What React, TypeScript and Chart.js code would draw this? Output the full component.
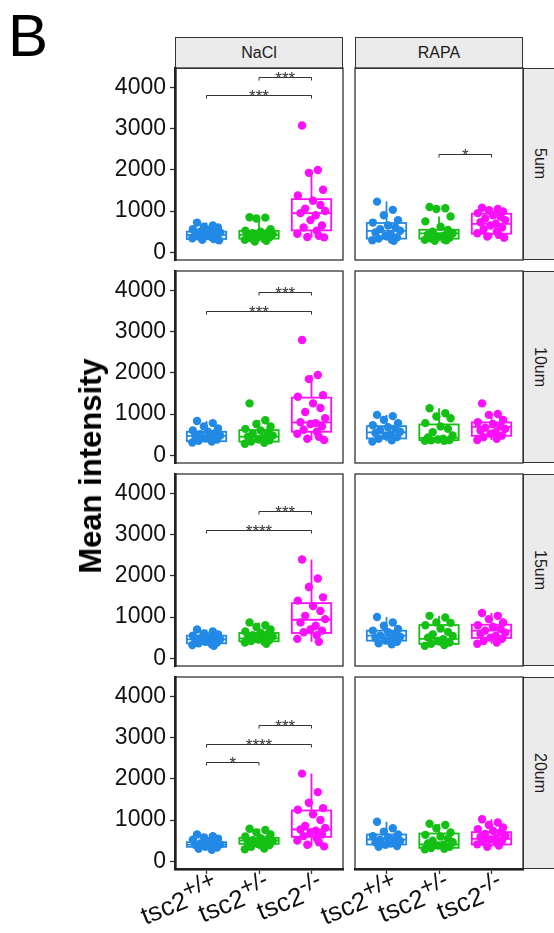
import React, { useEffect, useRef } from 'react';
import { Chart, registerables } from 'chart.js';

Chart.register(...registerables);

const FONT = '"Liberation Sans", Arial, Helvetica, sans-serif';

// ---------- categories & labels ----------
const treatments = ['NaCl', 'RAPA'];
const distances = ['5um', '10um', '15um', '20um'];
const genotypeBase = ['tsc2', 'tsc2', 'tsc2'];
const genotypeSup = ['+/+', '+/-', '-/-'];
const yTicks = [0, 1000, 2000, 3000, 4000];
const genotypeColors = ['#2389E6', '#14C014', '#FA10FA'];
// hand-picked horizontal jitter offsets (category units)
const jitter = [-0.18, 0.12, -0.05, 0.22, -0.26, 0.03, 0.17, -0.12, 0.26, -0.21, 0.08, -0.02, 0.2, -0.15, 0.1, -0.27, 0.14, -0.08, 0.24, 0.0];

// ---------- data: points per group ----------
// 5um
const nacl5Wt = [720, 650, 620, 600, 560, 540, 520, 500, 480, 460, 440, 420, 400, 380, 360, 340, 320, 300, 290];
const nacl5Het = [850, 840, 820, 560, 520, 500, 480, 460, 440, 420, 400, 380, 360, 340, 320, 300, 280, 260];
const nacl5Ko = [3080, 2000, 1930, 1520, 1380, 1250, 1150, 1060, 1000, 950, 900, 780, 650, 600, 520, 450, 400, 370, 360];
const rapa5Wt = [1230, 1030, 900, 780, 720, 650, 600, 560, 520, 480, 440, 400, 360, 330, 300, 290, 280];
const rapa5Het = [1100, 1070, 1050, 870, 750, 620, 540, 500, 460, 430, 400, 380, 350, 330, 310, 300, 290, 280];
const rapa5Ko = [1080, 1050, 1020, 990, 950, 900, 860, 820, 780, 730, 690, 650, 600, 560, 500, 460, 420, 380, 350];
// 10um
const nacl10Wt = [830, 780, 700, 650, 600, 570, 540, 510, 480, 460, 440, 410, 380, 350, 330, 310];
const nacl10Het = [1260, 850, 760, 700, 640, 600, 560, 520, 480, 450, 420, 390, 360, 330, 300, 280];
const nacl10Ko = [2800, 1950, 1850, 1460, 1420, 1260, 1150, 1050, 900, 800, 780, 760, 700, 620, 570, 520, 450, 400, 370];
const rapa10Wt = [980, 950, 860, 780, 730, 680, 650, 610, 570, 540, 500, 470, 440, 400, 360, 330];
const rapa10Het = [1140, 1020, 940, 900, 780, 700, 640, 560, 480, 430, 400, 380, 370, 360, 350, 350];
const rapa10Ko = [1260, 1000, 980, 860, 800, 760, 700, 670, 640, 600, 560, 520, 480, 440, 400, 370];
// 15um
const nacl15Wt = [700, 650, 600, 580, 550, 530, 500, 480, 460, 440, 420, 400, 380, 360, 340, 320, 300];
const nacl15Het = [870, 800, 760, 700, 650, 620, 590, 560, 530, 500, 480, 460, 440, 420, 400, 380, 350];
const nacl15Ko = [2400, 1940, 1730, 1480, 1400, 1270, 1150, 1030, 950, 870, 790, 700, 670, 630, 560, 470, 400];
const rapa15Wt = [1000, 870, 790, 710, 670, 630, 590, 550, 520, 490, 460, 430, 400, 360, 340];
const rapa15Het = [1030, 990, 870, 860, 800, 720, 640, 580, 540, 500, 460, 420, 380, 350, 320, 300];
const rapa15Ko = [1100, 1030, 950, 870, 800, 760, 710, 670, 620, 590, 540, 500, 470, 420, 380, 350];
// 20um
const nacl20Wt = [650, 610, 580, 550, 520, 490, 460, 430, 410, 390, 370, 350, 330, 300, 280];
const nacl20Het = [790, 760, 700, 650, 600, 560, 540, 510, 490, 460, 440, 420, 390, 350, 310, 290];
const nacl20Ko = [2130, 1680, 1420, 1290, 1250, 1140, 1000, 860, 810, 770, 740, 700, 650, 610, 560, 500, 460, 400, 360];
const rapa20Wt = [960, 800, 720, 650, 610, 580, 550, 520, 490, 460, 430, 400, 370, 350];
const rapa20Het = [910, 880, 800, 700, 640, 600, 550, 500, 460, 430, 400, 380, 350, 320, 300, 290];
const rapa20Ko = [1020, 940, 880, 820, 780, 740, 700, 660, 620, 590, 560, 530, 500, 470, 440, 410, 380, 350];

// ---------- box stats: [whiskerLow, q1, median, q3, whiskerHigh] ----------
const nacl5Box = [[290, 320, 420, 500, 720], [260, 330, 420, 520, 850], [360, 530, 950, 1290, 2000]];
const rapa5Box = [[280, 330, 520, 710, 1230], [280, 330, 460, 545, 870], [350, 450, 690, 935, 1080]];
const nacl10Box = [[310, 340, 470, 570, 830], [280, 330, 450, 610, 850], [370, 570, 800, 1400, 1950]];
const rapa10Box = [[330, 407, 553, 707, 980], [350, 366, 420, 748, 1140], [370, 472, 691, 797, 1000]];
const nacl15Box = [[300, 363, 460, 548, 700], [350, 411, 484, 613, 870], [400, 613, 935, 1339, 2400]];
const rapa15Box = [[340, 427, 548, 669, 1000], [300, 347, 468, 806, 1030], [350, 492, 669, 815, 1100]];
const nacl20Box = [[280, 349, 405, 462, 650], [290, 422, 503, 568, 790], [360, 592, 771, 1233, 2130]];
const rapa20Box = [[350, 406, 527, 649, 960], [290, 325, 406, 673, 910], [350, 406, 544, 706, 1020]];

// ---------- significance brackets: [fromGroup, toGroup, y, label] ----------
const nacl5Sig = [[2, 3, 4270, '***'], [1, 3, 3830, '***']];
const rapa5Sig = [[2, 3, 2390, '*']];
const nacl10Sig = [[2, 3, 3975, '***'], [1, 3, 3510, '***']];
const rapa10Sig = [];
const nacl15Sig = [[2, 3, 3585, '***'], [1, 3, 3120, '****']];
const rapa15Sig = [];
const nacl20Sig = [[2, 3, 3317, '***'], [1, 3, 2855, '****'], [1, 2, 2415, '*']];
const rapa20Sig = [];

// ---------- layout ----------
const W = 554;
const H = 933;
const COL_LEFT = [175, 355];
const PANEL_W = 168;
const ROW_TOP = [68, 271, 474, 677];
const PANEL_H = 192;
const Y_AXIS_W = 60;
const X_AXIS_H = 8;
const Y_MIN = -190;
const Y_MAX = 4480;
const X_MIN = 0.4;
const X_MAX = 3.6;

const panels = [
  { row: 0, col: 0, groups: [nacl5Wt, nacl5Het, nacl5Ko], box: nacl5Box, sig: nacl5Sig },
  { row: 0, col: 1, groups: [rapa5Wt, rapa5Het, rapa5Ko], box: rapa5Box, sig: rapa5Sig },
  { row: 1, col: 0, groups: [nacl10Wt, nacl10Het, nacl10Ko], box: nacl10Box, sig: nacl10Sig },
  { row: 1, col: 1, groups: [rapa10Wt, rapa10Het, rapa10Ko], box: rapa10Box, sig: rapa10Sig },
  { row: 2, col: 0, groups: [nacl15Wt, nacl15Het, nacl15Ko], box: nacl15Box, sig: nacl15Sig },
  { row: 2, col: 1, groups: [rapa15Wt, rapa15Het, rapa15Ko], box: rapa15Box, sig: rapa15Sig },
  { row: 3, col: 0, groups: [nacl20Wt, nacl20Het, nacl20Ko], box: nacl20Box, sig: nacl20Sig },
  { row: 3, col: 1, groups: [rapa20Wt, rapa20Het, rapa20Ko], box: rapa20Box, sig: rapa20Sig },
];

function makeConfig(spec: any): any {
  const isLeft = spec.col === 0;
  const isBottom = spec.row === 3;
  const left = COL_LEFT[spec.col];
  const top = ROW_TOP[spec.row];

  const boxPlugin = {
    id: 'boxes' + spec.row + spec.col,
    beforeDatasetsDraw(chart: any) {
      const { ctx, scales } = chart;
      const xs = scales.x, ys = scales.y;
      spec.box.forEach((b: number[], i: number) => {
        const [lo, q1, med, q3, hi] = b;
        const cx = xs.getPixelForValue(i + 1);
        const x0 = xs.getPixelForValue(i + 1 - 0.375);
        const x1 = xs.getPixelForValue(i + 1 + 0.375);
        const yq1 = ys.getPixelForValue(q1);
        const yq3 = ys.getPixelForValue(q3);
        const ymed = ys.getPixelForValue(med);
        ctx.save();
        ctx.strokeStyle = genotypeColors[i];
        ctx.lineWidth = 1.8;
        ctx.beginPath();
        ctx.moveTo(cx, yq3);
        ctx.lineTo(cx, ys.getPixelForValue(hi));
        ctx.moveTo(cx, yq1);
        ctx.lineTo(cx, ys.getPixelForValue(lo));
        ctx.stroke();
        ctx.fillStyle = '#ffffff';
        ctx.fillRect(x0, yq3, x1 - x0, yq1 - yq3);
        ctx.strokeRect(x0, yq3, x1 - x0, yq1 - yq3);
        ctx.beginPath();
        ctx.moveTo(x0, ymed);
        ctx.lineTo(x1, ymed);
        ctx.stroke();
        ctx.restore();
      });
    },
  };

  const sigPlugin = {
    id: 'sig' + spec.row + spec.col,
    afterDatasetsDraw(chart: any) {
      const { ctx, scales } = chart;
      const xs = scales.x, ys = scales.y;
      spec.sig.forEach((s: any[]) => {
        const [a, b, yv, label] = s;
        const xa = xs.getPixelForValue(a);
        const xb = xs.getPixelForValue(b);
        const y = Math.round(ys.getPixelForValue(yv)) + 0.5;
        ctx.save();
        ctx.strokeStyle = '#333333';
        ctx.lineWidth = 1;
        ctx.beginPath();
        ctx.moveTo(xa, y + 3);
        ctx.lineTo(xa, y);
        ctx.lineTo(xb, y);
        ctx.lineTo(xb, y + 3);
        ctx.stroke();
        ctx.fillStyle = '#333333';
        ctx.font = '17px ' + FONT;
        ctx.textAlign = 'center';
        ctx.textBaseline = 'alphabetic';
        ctx.fillText(label, (xa + xb) / 2, y + 6);
        ctx.restore();
      });
    },
  };

  const framePlugin = {
    id: 'frame' + spec.row + spec.col,
    afterDraw(chart: any) {
      const { ctx, chartArea } = chart;
      ctx.save();
      ctx.strokeStyle = '#333333';
      ctx.lineWidth = 1.3;
      ctx.strokeRect(chartArea.left, chartArea.top, chartArea.right - chartArea.left, chartArea.bottom - chartArea.top);
      ctx.restore();
    },
  };

  const datasets = spec.groups.map((vals: number[], i: number) => ({
    label: genotypeBase[i] + genotypeSup[i],
    data: vals.map((v, k) => ({ x: i + 1 + jitter[k % jitter.length], y: v })),
    backgroundColor: genotypeColors[i],
    borderWidth: 0,
    pointRadius: 4.2,
    pointHoverRadius: 4.2,
  }));

  const xScale: any = {
    type: 'linear',
    min: X_MIN,
    max: X_MAX,
    display: isBottom,
    afterBuildTicks: (s: any) => { s.ticks = [1, 2, 3].map((v) => ({ value: v })); },
    ticks: { callback: () => '', padding: 0 },
    grid: { drawOnChartArea: false, drawTicks: true, tickLength: 5, tickColor: '#333333', tickWidth: 1.3 },
    border: { display: true, color: '#000000', width: 2.6 },
  };
  if (isBottom) xScale.afterFit = (s: any) => { s.height = X_AXIS_H; };

  const yScale: any = {
    type: 'linear',
    min: Y_MIN,
    max: Y_MAX,
    display: isLeft,
    afterBuildTicks: (s: any) => { s.ticks = yTicks.map((v) => ({ value: v })); },
    ticks: {
      callback: (v: any) => String(v),
      color: '#111111',
      font: { size: 23, family: FONT },
      padding: 4,
    },
    grid: { drawOnChartArea: false, drawTicks: true, tickLength: 5, tickColor: '#333333', tickWidth: 1.3 },
    border: { display: true, color: '#000000', width: 2.6 },
  };
  if (isLeft) yScale.afterFit = (s: any) => { s.width = Y_AXIS_W; };

  return {
    type: 'scatter',
    data: { datasets },
    plugins: [boxPlugin, sigPlugin, framePlugin],
    options: {
      animation: false,
      responsive: false,
      maintainAspectRatio: false,
      devicePixelRatio: 1,
      events: [],
      layout: {
        padding: {
          left: isLeft ? left - Y_AXIS_W : left,
          right: W - (left + PANEL_W),
          top: top,
          bottom: isBottom ? H - (top + PANEL_H) - X_AXIS_H : H - (top + PANEL_H),
        },
      },
      plugins: { legend: { display: false }, tooltip: { enabled: false } },
      scales: { x: xScale, y: yScale },
    },
  };
}

function Panel({ spec }: { spec: any }) {
  const ref = useRef<HTMLCanvasElement | null>(null);
  useEffect(() => {
    const chart = new Chart(ref.current as HTMLCanvasElement, makeConfig(spec));
    return () => chart.destroy();
  }, [spec]);
  return (
    <canvas
      ref={ref}
      width={W}
      height={H}
      style={{ position: 'absolute', left: 0, top: 0, width: W, height: H }}
    />
  );
}

export default function App() {
  const stripTop = 37;
  const xLabels: any[] = [];
  treatments.forEach((t, c) => {
    genotypeBase.forEach((g, i) => {
      const tx = COL_LEFT[c] + ((i + 1 - X_MIN) / (X_MAX - X_MIN)) * PANEL_W;
      xLabels.push(
        <div
          key={t + i}
          style={{
            position: 'absolute',
            left: tx + 6 - 300,
            width: 300,
            top: 874,
            textAlign: 'right',
            fontSize: 26,
            lineHeight: '26px',
            whiteSpace: 'nowrap',
            color: '#111',
          }}
        >
          <span style={{ display: 'inline-block', transform: 'rotate(-22deg)', transformOrigin: '100% 0' }}>
            {g}
            <span style={{ fontSize: '0.9em', position: 'relative', top: '-0.42em' }}>{genotypeSup[i]}</span>
          </span>
        </div>
      );
    });
  });

  return (
    <div
      style={{
        position: 'absolute',
        left: 0,
        top: 0,
        width: W,
        height: H,
        overflow: 'hidden',
        background: '#ffffff',
        fontFamily: FONT,
      }}
    >
      <div style={{ position: 'absolute', left: 8, top: 6, fontSize: 60, lineHeight: '60px', color: '#000' }}>B</div>

      {treatments.map((t, c) => (
        <div
          key={t}
          style={{
            position: 'absolute',
            left: COL_LEFT[c],
            top: stripTop,
            width: PANEL_W,
            height: ROW_TOP[0] - stripTop + 1,
            boxSizing: 'border-box',
            border: '1px solid #333',
            background: '#EBEBEB',
            display: 'flex',
            alignItems: 'center',
            justifyContent: 'center',
            fontSize: 16,
            color: '#1a1a1a',
          }}
        >
          {t}
        </div>
      ))}

      {distances.map((d, r) => (
        <div
          key={d}
          style={{
            position: 'absolute',
            left: COL_LEFT[1] + PANEL_W,
            top: ROW_TOP[r],
            width: 40,
            height: PANEL_H,
            boxSizing: 'border-box',
            border: '1px solid #333',
            background: '#EBEBEB',
          }}
        >
          <div
            style={{
              position: 'absolute',
              left: 0,
              top: 0,
              width: 31,
              height: PANEL_H - 2,
              display: 'flex',
              alignItems: 'center',
              justifyContent: 'center',
              writingMode: 'vertical-rl',
              fontSize: 16,
              color: '#1a1a1a',
            }}
          >
            {d}
          </div>
        </div>
      ))}

      {panels.map((p) => (
        <Panel key={p.row + '-' + p.col} spec={p} />
      ))}

      <div
        style={{
          position: 'absolute',
          left: 91,
          top: 466,
          transform: 'translate(-50%, -50%) rotate(-90deg)',
          fontSize: 31,
          fontWeight: 'bold',
          whiteSpace: 'nowrap',
          color: '#000',
        }}
      >
        Mean intensity
      </div>

      {xLabels}
    </div>
  );
}
